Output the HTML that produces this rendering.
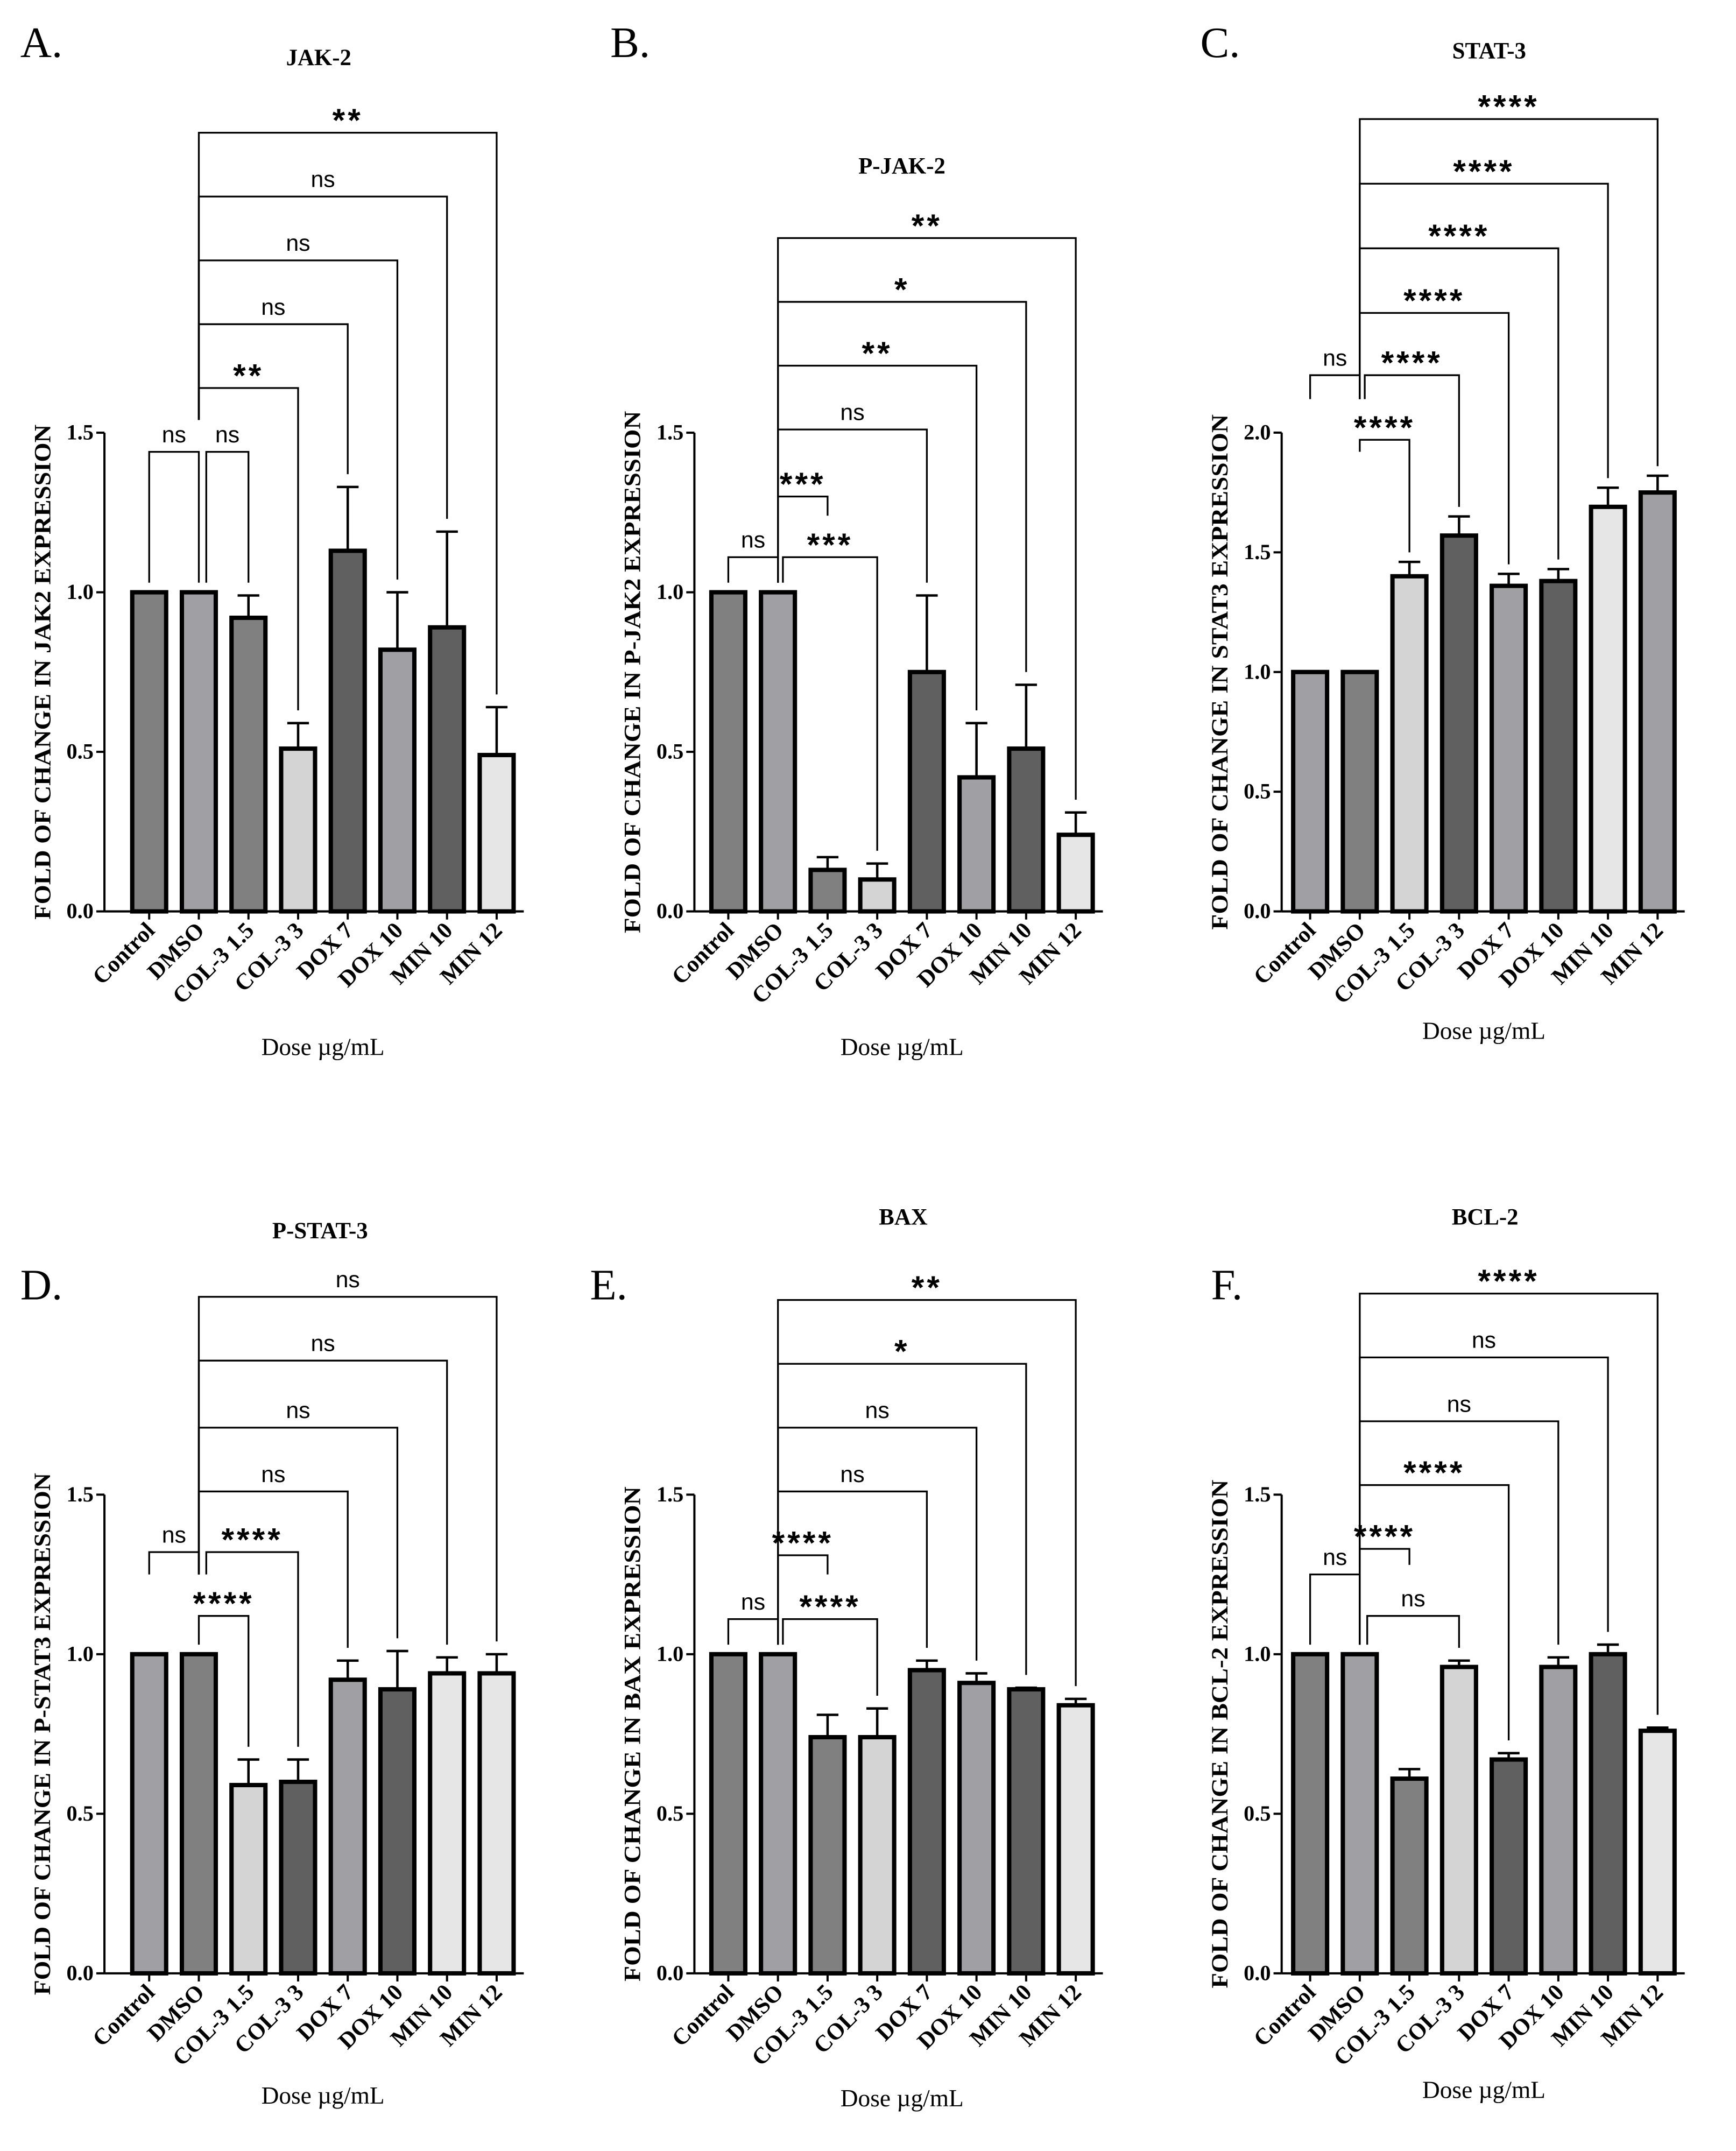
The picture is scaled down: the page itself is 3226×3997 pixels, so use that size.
<!DOCTYPE html>
<html><head><meta charset="utf-8"><style>
html,body{margin:0;padding:0;background:#fff}
svg{display:block}
.serif{font-family:"Liberation Serif",serif}
.sans{font-family:"Liberation Sans",sans-serif}
</style></head><body>
<svg id="fig" width="3226" height="3997" viewBox="0 0 1280 1586" preserveAspectRatio="none" xmlns="http://www.w3.org/2000/svg"></svg>
<script>
const categories = ["Control","DMSO","COL-3 1.5","COL-3 3","DOX 7","DOX 10","MIN 10","MIN 12"];
const valuesA = [1,1,0.92,0.51,1.13,0.82,0.89,0.49];
const errorsA = [0,0,0.07,0.08,0.2,0.18,0.3,0.15];
const valuesB = [1,1,0.13,0.10,0.75,0.42,0.51,0.24];
const errorsB = [0,0,0.04,0.05,0.24,0.17,0.2,0.07];
const valuesC = [1,1,1.40,1.57,1.36,1.38,1.69,1.75];
const errorsC = [0,0,0.06,0.08,0.05,0.05,0.08,0.07];
const valuesD = [1,1,0.59,0.60,0.92,0.89,0.94,0.94];
const errorsD = [0,0,0.08,0.07,0.06,0.12,0.05,0.06];
const valuesE = [1,1,0.74,0.74,0.95,0.91,0.89,0.84];
const errorsE = [0,0,0.07,0.09,0.03,0.03,0.005,0.02];
const valuesF = [1,1,0.61,0.96,0.67,0.96,1.0,0.76];
const errorsF = [0,0,0.03,0.02,0.02,0.03,0.03,0.01];
const ticks15 = ["0.0","0.5","1.0","1.5"];
const ticks20 = ["0.0","0.5","1.0","1.5","2.0"];
// brackets: [fromIdx, toIdx, level, label, leftEnd, rightEnd, leftOffset]
const bracketsA = [[0,1,1.44,"ns",1.03,1.03,0],[1,2,1.44,"ns",1.03,null,0.15],[1,3,1.64,"**",1.54,null,0],[1,4,1.84,"ns",1.54,null,0],[1,5,2.04,"ns",1.54,null,0],[1,6,2.24,"ns",1.54,null,0],[1,7,2.44,"**",1.54,null,0]];
const bracketsB = [[0,1,1.11,"ns",1.03,1.03,0],[1,2,1.30,"***",1.24,1.24,0],[1,3,1.11,"***",1.03,null,0.1],[1,4,1.51,"ns",1.03,null,0],[1,5,1.71,"**",1.03,null,0],[1,6,1.91,"*",1.03,null,0],[1,7,2.11,"**",1.03,null,0]];
const bracketsC = [[0,1,2.24,"ns",2.14,2.14,0],[1,2,1.97,"****",1.92,null,0],[1,3,2.24,"****",2.14,null,0.1],[1,4,2.50,"****",2.14,null,0],[1,5,2.77,"****",2.14,null,0],[1,6,3.04,"****",2.14,null,0],[1,7,3.31,"****",2.14,null,0]];
const bracketsD = [[0,1,1.32,"ns",1.25,1.25,0],[1,2,1.12,"****",1.03,null,0],[1,3,1.32,"****",1.25,null,0.15],[1,4,1.51,"ns",1.25,null,0],[1,5,1.71,"ns",1.25,null,0],[1,6,1.92,"ns",1.25,null,0],[1,7,2.12,"ns",1.25,null,0]];
const bracketsE = [[0,1,1.11,"ns",1.03,1.03,0],[1,2,1.31,"****",1.25,1.25,0],[1,3,1.11,"****",1.03,null,0.1],[1,4,1.51,"ns",1.03,null,0],[1,5,1.71,"ns",1.03,null,0],[1,6,1.91,"*",1.03,null,0],[1,7,2.11,"**",1.03,null,0]];
const bracketsF = [[0,1,1.25,"ns",1.03,1.03,0],[1,2,1.33,"****",1.28,1.28,0],[1,3,1.12,"ns",1.03,null,0.15],[1,4,1.53,"****",1.03,null,0],[1,5,1.73,"ns",1.03,null,0],[1,6,1.93,"ns",1.03,null,0],[1,7,2.13,"****",1.03,null,0]];
const G1="#808080",G2="#a0a0a4",G3="#d4d4d4",G4="#606060",G5="#e6e6e6";
const colorsStd=[G1,G2,G1,G3,G4,G2,G4,G5];
const colorsAlt=[G2,G1,G3,G4,G2,G4,G5,G2];
const colorsD=[G2,G1,G3,G4,G2,G4,G5,G5];

const panels=[
 {id:"a",letter:"A.",lx:15,ly:42,title:"JAK-2",tx:235,ty:48,ax:77,x0:110,y0:672,s:235.3,ticks:ticks15,v:valuesA,e:errorsA,b:bracketsA,c:colorsStd,yt:"FOLD OF CHANGE IN JAK2 EXPRESSION",ytl:365,dy:106},
 {id:"b",letter:"B.",lx:450,ly:42,title:"P-JAK-2",tx:665,ty:128,ax:512,x0:537,y0:672,s:235.3,ticks:ticks15,v:valuesB,e:errorsB,b:bracketsB,c:colorsStd,yt:"FOLD OF CHANGE IN P-JAK2 EXPRESSION",ytl:385,dy:106},
 {id:"c",letter:"C.",lx:885,ly:42,title:"STAT-3",tx:1098,ty:43,ax:945,x0:966,y0:672,s:176.5,ticks:ticks20,v:valuesC,e:errorsC,b:bracketsC,c:colorsAlt,yt:"FOLD OF CHANGE IN STAT3 EXPRESSION",ytl:380,dy:94},
 {id:"d",letter:"D.",lx:15,ly:958,title:"P-STAT-3",tx:236,ty:913,ax:77,x0:110,y0:1455,s:235.3,ticks:ticks15,v:valuesD,e:errorsD,b:bracketsD,c:colorsD,yt:"FOLD OF CHANGE IN P-STAT3 EXPRESSION",ytl:385,dy:96},
 {id:"e",letter:"E.",lx:435,ly:958,title:"BAX",tx:666,ty:903,ax:512,x0:537,y0:1455,s:235.3,ticks:ticks15,v:valuesE,e:errorsE,b:bracketsE,c:colorsStd,yt:"FOLD OF CHANGE IN BAX EXPRESSION",ytl:365,dy:98},
 {id:"f",letter:"F.",lx:893,ly:958,title:"BCL-2",tx:1095,ty:903,ax:945,x0:966,y0:1455,s:235.3,ticks:ticks15,v:valuesF,e:errorsF,b:bracketsF,c:colorsStd,yt:"FOLD OF CHANGE IN BCL-2 EXPRESSION",ytl:375,dy:92}
];
const NS="http://www.w3.org/2000/svg";
const svg=document.getElementById("fig");
function mk(tag,attrs,parent,text){const el=document.createElementNS(NS,tag);for(const k in attrs)el.setAttribute(k,attrs[k]);if(text!==undefined)el.textContent=text;parent.appendChild(el);return el;}
const STEP=36.6, BW=25;
panels.forEach(p=>{
 const g=mk("g",{},svg);
 
 
 const X=i=>p.x0+i*STEP;
 const Y=v=>p.y0-v*p.s;
 const L=mk("text",{x:p.lx,y:p.ly,"font-size":32,class:"serif"},g,p.letter);
 
 
 const T=mk("text",{x:p.tx,y:p.ty,"font-size":17,"font-weight":"bold","text-anchor":"middle",class:"serif"},g,p.title);
 
 
 const maxT=(p.ticks.length-1)*0.5;
 const ya=mk("line",{x1:p.ax,y1:Y(0),x2:p.ax,y2:Y(maxT),stroke:"#000","stroke-width":1.6},g);
 
 
 p.ticks.forEach((t,i)=>{
  const v=i*0.5;
  mk("line",{x1:p.ax-6,y1:Y(v),x2:p.ax,y2:Y(v),stroke:"#000","stroke-width":1.6},g);
  const tl=mk("text",{x:p.ax-8,y:Y(v)+5,"font-size":16,"font-weight":"bold","text-anchor":"end",class:"serif"},g,t);
  
  
 });
 const xa=mk("line",{x1:p.ax,y1:Y(0),x2:X(7)+20,y2:Y(0),stroke:"#000","stroke-width":1.6},g);
 
 
 const ymid=(Y(0)+Y(maxT))/2;
 const ytx=p.ax-40;
 const yt=mk("text",{x:ytx,y:ymid,transform:`rotate(-90 ${ytx} ${ymid})`,"font-size":17,"font-weight":"bold","text-anchor":"middle",textLength:p.ytl,lengthAdjust:"spacingAndGlyphs",class:"serif"},g,p.yt);
 
 
 categories.forEach((c,i)=>{
  const cx=X(i);
  const top=Y(p.v[i]);
  if(p.e[i]>0){
   const et=Y(p.v[i]+p.e[i]);
   mk("line",{x1:cx,y1:top,x2:cx,y2:et,stroke:"#000","stroke-width":1.8},g);
   mk("line",{x1:cx-8,y1:et,x2:cx+8,y2:et,stroke:"#000","stroke-width":1.8},g);
  }
  const r=mk("rect",{x:cx-BW/2,y:top,width:BW,height:Y(0)-top,fill:p.c[i],stroke:"#000","stroke-width":3.2},g);
  
  
  mk("line",{x1:cx,y1:Y(0),x2:cx,y2:Y(0)+6,stroke:"#000","stroke-width":1.6},g);
  const lx=cx+5, ly=Y(0)+15;
  const xl=mk("text",{x:lx,y:ly,transform:`rotate(-45 ${lx} ${ly})`,"font-size":17,"font-weight":"bold","text-anchor":"end",class:"serif"},g,c);
  
  
 });
 const xt=mk("text",{x:(X(0)+X(7))/2,y:Y(0)+p.dy,"font-size":18,"text-anchor":"middle",class:"serif"},g,"Dose µg/mL");
 
 
 p.b.forEach(b=>{
  const [f,t,lev,lab,le,re,off]=b;
  const x1=X(f)+off*STEP, x2=X(t), yb=Y(lev);
  const rEnd = re!==null ? re : p.v[t]+p.e[t]+0.04;
  const pth=mk("path",{d:`M${x1},${Y(le)} L${x1},${yb} L${x2},${yb} L${x2},${Y(rEnd)}`,fill:"none",stroke:"#000","stroke-width":1.3},g);
  
  
  const star=lab.indexOf("*")>=0;
  const tx=mk("text",{x:(x1+x2)/2,y:yb-(star?1:7),"font-size":star?24:17,"font-weight":star?"bold":"normal","text-anchor":"middle","letter-spacing":star?2:0,class:"sans"},g,lab);
  
  
 });
});
</script>
</body></html>
